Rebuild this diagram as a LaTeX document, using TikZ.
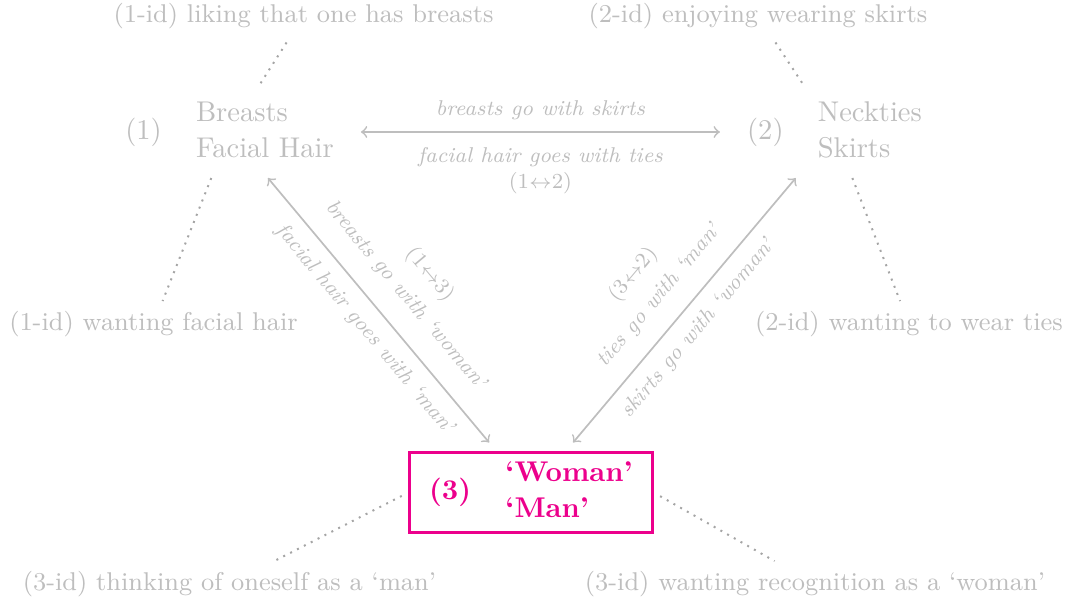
\documentclass[tikz,border=0pt]{standalone}
\usetikzlibrary{arrows}
\definecolor{lgray}{RGB}{190,190,190}
\definecolor{dgray}{RGB}{165,165,165}
\definecolor{hot}{RGB}{236,0,140}
\renewcommand{\arraystretch}{1.05}
\begin{document}
\begin{tikzpicture}[x=0.35026pt, y=-0.35026pt]
\tikzset{
 main/.style={text=lgray, font=\fontsize{10}{12}\selectfont, inner sep=3.33pt},
 ann/.style={text=lgray, font=\fontsize{9}{11}\selectfont},
 lab/.style={text=lgray, font=\fontsize{7.5}{9}\selectfont\itshape, inner xsep=0pt, text height=5.2pt, text depth=1.5pt, sloped},
 labup/.style={lab, font=\fontsize{7.5}{9}\selectfont\upshape},
 conn/.style={draw=lgray, line width=0.6pt, <->},
 dots/.style={draw=dgray, line width=0.7pt, dotted},
 hl/.style={draw=hot, text=hot, line width=1pt, inner xsep=0.8pt, inner ysep=1.5pt, font=\fontsize{10}{12}\selectfont\bfseries}
}
\useasboundingbox (0,0) rectangle (1068,602);

\node[main] (n1) at (229.5,132) {\begin{tabular}{ll}(1) & \begin{tabular}{@{}l@{}}Breasts\\Facial Hair\end{tabular}\end{tabular}};
\node[main] (n2) at (834.5,132) {\begin{tabular}{ll}(2) & \begin{tabular}{@{}l@{}}Neckties\\Skirts\end{tabular}\end{tabular}};
\node[hl] (n3) at (531,492.5) {\begin{tabular}{ll}(3) & \begin{tabular}{@{}l@{}}`Woman'\\`Man'\end{tabular}\end{tabular}};

\node[ann] (a1t) at (303.5,16) {(1-id) liking that one has breasts};
\node[ann] (a2t) at (758,16) {(2-id) enjoying wearing skirts};
\node[ann] (a1b) at (153.5,324) {(1-id) wanting facial hair};
\node[ann] (a2b) at (909,324) {(2-id) wanting to wear ties};
\node[ann] (a3l) at (229.5,584) {(3-id) thinking of oneself as a `man'};
\node[ann] (a3r) at (815,584) {(3-id) wanting recognition as a `woman'};

\draw[conn] (n1) -- (n2)
  node[lab, midway, anchor=south, inner ysep=4.15pt] {breasts go with skirts}
  node[lab, midway, anchor=north, inner ysep=5.1pt] {facial hair goes with ties}
  node[labup, midway, anchor=north, inner ysep=14.3pt] {(1$\leftrightarrow$2)};

\draw[conn, shorten >=3.8pt] (n1) -- (n3)
  node[lab, midway, anchor=south, inner ysep=7.0pt] {breasts go with `woman'}
  node[labup, midway, anchor=south, inner ysep=18.2pt] {(1$\leftrightarrow$3)}
  node[lab, midway, anchor=north, inner ysep=4.25pt] {facial hair goes with `man'};

\draw[conn, shorten <=3.8pt] (n3) -- (n2)
  node[lab, midway, anchor=south, inner ysep=6.3pt] {ties go with `man'}
  node[labup, midway, anchor=south, inner ysep=18.1pt] {(3$\leftrightarrow$2)}
  node[lab, midway, anchor=north, inner ysep=4.25pt] {skirts go with `woman'};

\draw[dots, shorten <=1.5pt] (a1t) -- (n1);
\draw[dots, shorten <=1.5pt] (a2t) -- (n2);
\draw[dots] (n1) -- (a1b);
\draw[dots] (n2) -- (a2b);
\draw[dots, shorten <=2.6pt] (n3.west) -- (a3l);
\draw[dots, shorten <=2.6pt] (n3.east) -- (a3r);
\end{tikzpicture}
\end{document}
